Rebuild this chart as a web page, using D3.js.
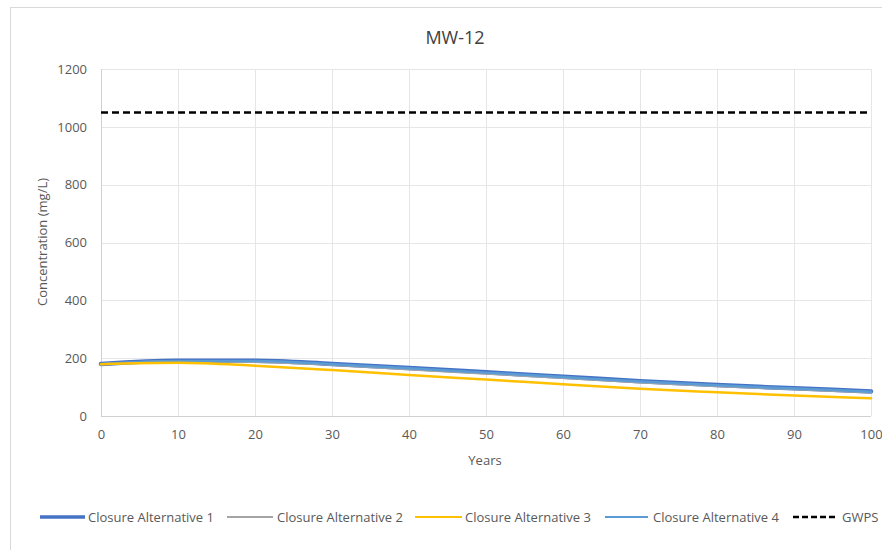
<!DOCTYPE html>
<html><head><meta charset="utf-8">
<script src="https://cdn.jsdelivr.net/npm/d3@7"></script>
<style>body{margin:0;background:#fff;} text{font-family:"Open Sans","Noto Sans",sans-serif;}</style>
</head><body>
<svg id="c" width="882" height="550"></svg>
<script>
const years = [0,10,20,30,40,50,60,70,80,90,100];
const alt1 = [180,191,191,180,166,151,136,120,107,96,85];
const alt2 = [179,189,188,177,162,147,132,117,104,93,82];
const alt3 = [179,184,174,159,142,126,110,94,82,71,61];
const alt4 = [180,190,190,179,165,150,135,119,106,95,84];
const gwps = 1050;
const yTicks = [0,200,400,600,800,1000,1200];
const xTicks = [0,10,20,30,40,50,60,70,80,90,100];
const seriesNames = ["Closure Alternative 1","Closure Alternative 2","Closure Alternative 3","Closure Alternative 4","GWPS"];

const svg = d3.select("#c");
svg.append("rect").attr("x",10.5).attr("y",7.5).attr("width",900).attr("height",600)
  .attr("fill","#fff").attr("stroke","#d9d9d9");

const x = d3.scaleLinear().domain([0,100]).range([101,871]);
const y = d3.scaleLinear().domain([0,1200]).range([416,69]);

svg.append("text").attr("x",455).attr("y",44).attr("text-anchor","middle")
  .attr("font-size",18).attr("fill","#404040").text("MW-12");

// gridlines
const g = svg.append("g");
g.selectAll(".hg").data(yTicks).join("line")
  .attr("x1",x(0)).attr("x2",x(100)).attr("y1",d=>Math.round(y(d))+0.5).attr("y2",d=>Math.round(y(d))+0.5)
  .attr("stroke",d=>d===0?"#d0d0d0":"#e6e6e6");
g.selectAll(".vg").data(xTicks).join("line")
  .attr("y1",y(0)).attr("y2",y(1200)).attr("x1",d=>Math.round(x(d))+0.5).attr("x2",d=>Math.round(x(d))+0.5)
  .attr("stroke",d=>d===0?"#d0d0d0":"#e6e6e6");

// axes
const yAxis = d3.axisLeft(y).tickValues(yTicks).tickFormat(d3.format("d")).tickSize(0).tickPadding(14);
const ya = svg.append("g").attr("transform",`translate(${x(0)},0)`).call(yAxis);
ya.select(".domain").remove();
ya.selectAll("text").attr("font-size",13).attr("fill","#595959").style("font-family","'Open Sans',sans-serif");
const xAxis = d3.axisBottom(x).tickValues(xTicks).tickFormat(d3.format("d")).tickSize(0).tickPadding(14);
const xa = svg.append("g").attr("transform",`translate(0,${y(0)})`).call(xAxis);
xa.select(".domain").remove();
xa.selectAll("text").attr("font-size",13).attr("fill","#595959").style("font-family","'Open Sans',sans-serif");

svg.append("text").attr("x",485).attr("y",465).attr("text-anchor","middle")
  .attr("font-size",13).attr("fill","#595959").text("Years");
svg.append("text").attr("transform","translate(47,242) rotate(-90)").attr("text-anchor","middle")
  .attr("font-size",13).attr("fill","#595959").text("Concentration (mg/L)");

const line = d3.line().x((d,i)=>x(years[i])).y(d=>y(d)).curve(d3.curveMonotoneX);
const styles = [
  {data:alt1,color:"#4472C4",w:4.5},
  {data:alt2,color:"#A5A5A5",w:2.5},
  {data:alt4,color:"#5B9BD5",w:2.5},
  {data:alt3,color:"#FFC000",w:2.5}
];
styles.forEach(s=>{
  svg.append("path").datum(s.data).attr("d",line).attr("fill","none")
    .attr("stroke",s.color).attr("stroke-width",s.w).attr("stroke-linecap","round");
});
svg.append("line").attr("x1",x(0)).attr("x2",x(100)).attr("y1",y(gwps)).attr("y2",y(gwps))
  .attr("stroke","#000").attr("stroke-width",2.5).attr("stroke-dasharray","7,4");

// legend
const leg = [
  {name:seriesNames[0],color:"#4472C4",w:3.5,dash:null,x1:40,x2:85,tx:88},
  {name:seriesNames[1],color:"#A5A5A5",w:2,dash:null,x1:227,x2:273,tx:277},
  {name:seriesNames[2],color:"#FFC000",w:2,dash:null,x1:415,x2:462,tx:465},
  {name:seriesNames[3],color:"#5B9BD5",w:2,dash:null,x1:605,x2:648,tx:653},
  {name:seriesNames[4],color:"#000",w:2.5,dash:"6,3",x1:793,x2:838,tx:842}
];
const lg = svg.append("g");
leg.forEach(l=>{
  lg.append("line").attr("x1",l.x1).attr("x2",l.x2).attr("y1",517).attr("y2",517)
    .attr("stroke",l.color).attr("stroke-width",l.w).attr("stroke-dasharray",l.dash);
  lg.append("text").attr("x",l.tx).attr("y",521.5).attr("font-size",13).attr("fill","#595959").text(l.name);
});
</script>
</body></html>
